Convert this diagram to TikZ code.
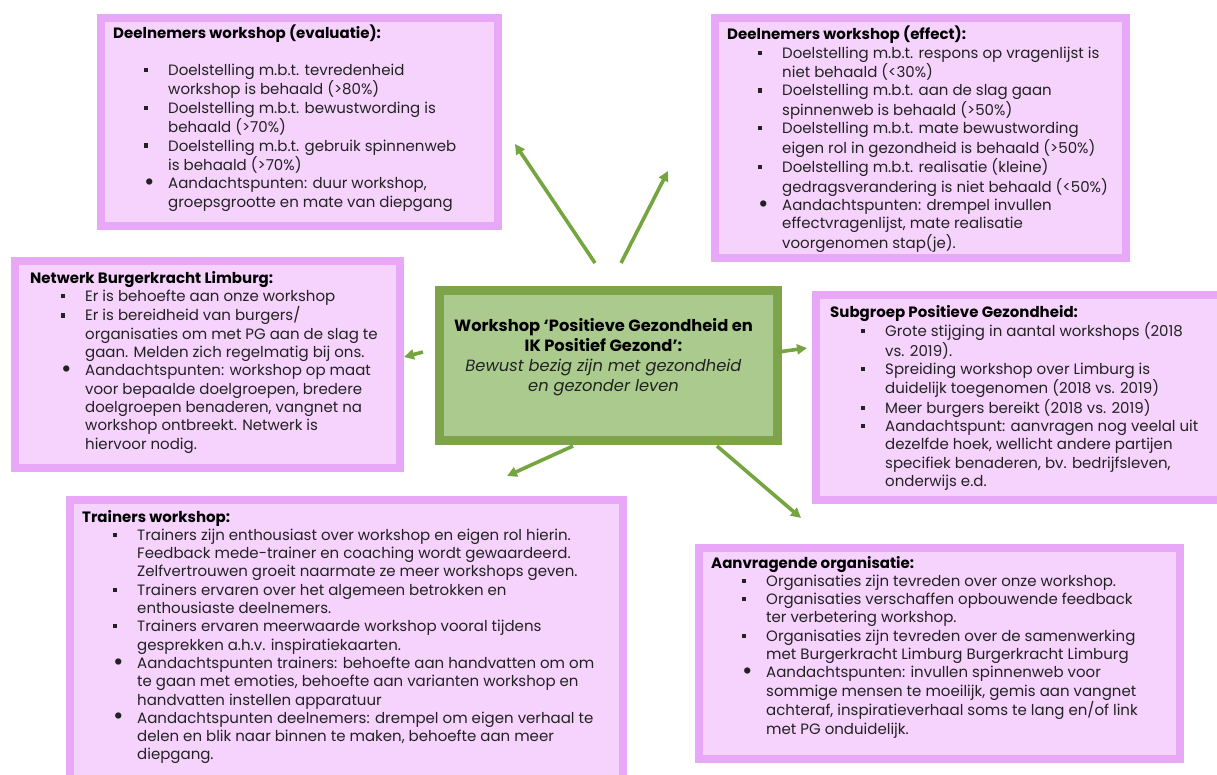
\documentclass[tikz,border=0pt]{standalone}
\usepackage{fontspec}
\setmainfont{Poppins}
\usepackage{array}
\usepackage{tikz}
\usetikzlibrary{arrows.meta}
\usetikzlibrary{positioning}

\definecolor{paars}{HTML}{E9A8F7}
\definecolor{lila}{HTML}{F6D3FC}
\definecolor{groen}{HTML}{7DA44A}
\definecolor{lichtgroen}{HTML}{AACA8E}
\definecolor{pijlgroen}{HTML}{74A53F}
\definecolor{tekst}{HTML}{222222}

\newcommand{\blok}{\raisebox{3.4pt}{\rule{4.2pt}{4.2pt}}}
\newcommand{\rond}{\raisebox{-1.6pt}{\scalebox{1.7}{\textbullet}}}
\newcommand{\kop}[1]{\multicolumn{2}{@{}l@{}}{\color{black}\textbf{#1}}}
\newenvironment{punten}{\begin{tabular}{@{\hspace{31pt}}p{24pt}@{}l@{}}}{\end{tabular}}

\tikzset{
	vak/.style={draw=paars, fill=lila, line width=8pt, anchor=north west, inner sep=0pt},
	kern/.style={draw=groen, fill=lichtgroen, line width=9pt, anchor=north west, inner sep=0pt},
	lijst/.style={anchor=north west, inner sep=0pt, text=tekst, font=\fontsize{15}{18.3}\selectfont},
	pijl/.style={pijlgroen, line width=3.6pt, -{Triangle[length=10pt,width=10pt]}}
}

\begin{document}
\begin{tikzpicture}[x=1pt,y=-1pt]
	\useasboundingbox (0,0) rectangle (1217,775);
	
	% kaders
	\node[vak, minimum width=397pt, minimum height=208pt] (evaluatie) at (97,14) {};
	\node[vak, minimum width=411pt, minimum height=240pt] (effect) at (711,14) {};
	\node[vak, minimum width=385pt, minimum height=207pt] (netwerk) at (11,257) {};
	\node[kern, minimum width=338pt, minimum height=149pt] (workshop) at (434.5,286.5) {};
	\node[vak, minimum width=409pt, minimum height=205pt] (subgroep) at (812,291) {};
	\node[vak, minimum width=553pt, minimum height=290pt] (trainers) at (66,496) {};
	\node[vak, minimum width=481pt, minimum height=211pt] (aanvrager) at (695,544) {};
	
	% midden
	\node[align=center, text=tekst, font=\fontsize{16.3}{20.2}\selectfont] (titel) at (603.5,357) {%
		\textcolor{black}{\textbf{Workshop ‘Positieve Gezondheid en}}\\
		\textcolor{black}{\textbf{IK Positief Gezond’:}}\\
		\textit{Bewust bezig zijn met gezondheid}\\
		\textit{en gezonder leven}};
	
	\node[lijst] (evaluatietekst) at (113,25) {\begin{punten}
		\kop{Deelnemers workshop (evaluatie):}\\
		\\
		\blok & Doelstelling m.b.t. tevredenheid\\
		& workshop is behaald (>80\%)\\
		\blok & Doelstelling m.b.t. bewustwording is\\
		& behaald (>70\%)\\
		\blok & Doelstelling m.b.t. gebruik spinnenweb\\
		& is behaald (>70\%)\\
		\rond & Aandachtspunten: duur workshop,\\
		& groepsgrootte en mate van diepgang
	\end{punten}};
	
	\node[lijst] (effecttekst) at (727,26) {\begin{punten}
		\kop{Deelnemers workshop (effect):}\\
		\blok & Doelstelling m.b.t. respons op vragenlijst is\\
		& niet behaald (<30\%)\\
		\blok & Doelstelling m.b.t. aan de slag gaan\\
		& spinnenweb is behaald (>50\%)\\
		\blok & Doelstelling m.b.t. mate bewustwording\\
		& eigen rol in gezondheid is behaald (>50\%)\\
		\blok & Doelstelling m.b.t. realisatie (kleine)\\
		& gedragsverandering is niet behaald (<50\%)\\
		\rond & Aandachtspunten: drempel invullen\\
		& effectvragenlijst, mate realisatie\\
		& voorgenomen stap(je).
	\end{punten}};
	
	\node[lijst] (netwerktekst) at (30,270) {\begin{punten}
		\kop{Netwerk Burgerkracht Limburg:}\\
		\blok & Er is behoefte aan onze workshop\\
		\blok & Er is bereidheid van burgers/\\
		& organisaties om met PG aan de slag te\\
		& gaan. Melden zich regelmatig bij ons.\\
		\rond & Aandachtspunten: workshop op maat\\
		& voor bepaalde doelgroepen, bredere\\
		& doelgroepen benaderen, vangnet na\\
		& workshop ontbreekt. Netwerk is\\
		& hiervoor nodig.
	\end{punten}};
	
	\node[lijst] (subgroeptekst) at (830,304) {\begin{punten}
		\kop{Subgroep Positieve Gezondheid:}\\
		\blok & Grote stijging in aantal workshops (2018\\
		& vs. 2019).\\
		\blok & Spreiding workshop over Limburg is\\
		& duidelijk toegenomen (2018 vs. 2019)\\
		\blok & Meer burgers bereikt (2018 vs. 2019)\\
		\blok & Aandachtspunt: aanvragen nog veelal uit\\
		& dezelfde hoek, wellicht andere partijen\\
		& specifiek benaderen, bv. bedrijfsleven,\\
		& onderwijs e.d.
	\end{punten}};
	
	\node[lijst] (trainerstekst) at (82,509) {\begin{punten}
		\kop{Trainers workshop:}\\
		\blok & Trainers zijn enthousiast over workshop en eigen rol hierin.\\
		& Feedback mede-trainer en coaching wordt gewaardeerd.\\
		& Zelfvertrouwen groeit naarmate ze meer workshops geven.\\
		\blok & Trainers ervaren over het algemeen betrokken en\\
		& enthousiaste deelnemers.\\
		\blok & Trainers ervaren meerwaarde workshop vooral tijdens\\
		& gesprekken a.h.v. inspiratiekaarten.\\
		\rond & Aandachtspunten trainers: behoefte aan handvatten om om\\
		& te gaan met emoties, behoefte aan varianten workshop en\\
		& handvatten instellen apparatuur\\
		\rond & Aandachtspunten deelnemers: drempel om eigen verhaal te\\
		& delen en blik naar binnen te maken, behoefte aan meer\\
		& diepgang.
	\end{punten}};
	
	\node[lijst] (aanvragertekst) at (711,555) {\begin{punten}
		\kop{Aanvragende organisatie:}\\
		\blok & Organisaties zijn tevreden over onze workshop.\\
		\blok & Organisaties verschaffen opbouwende feedback\\
		& ter verbetering workshop.\\
		\blok & Organisaties zijn tevreden over de samenwerking\\
		& met Burgerkracht Limburg Burgerkracht Limburg\\
		\rond & Aandachtspunten: invullen spinnenweb voor\\
		& sommige mensen te moeilijk, gemis aan vangnet\\
		& achteraf, inspiratieverhaal soms te lang en/of link\\
		& met PG onduidelijk.
	\end{punten}};
	
	% pijlen vanuit het midden
	\coordinate (s1) at (595,263);  \coordinate (e1) at (515,144);
	\coordinate (s2) at (621,263);  \coordinate (e2) at (668,171);
	\coordinate (s3) at (423,352);  \coordinate (e3) at (404,357);
	\coordinate (s4) at (778,352);  \coordinate (e4) at (807,348);
	\coordinate (s5) at (573,446);  \coordinate (e5) at (507,476);
	\coordinate (s6) at (717,446);  \coordinate (e6) at (801,518);
	\foreach \i in {1,...,6}
		\draw[pijl] (s\i) -- (e\i);
	
\end{tikzpicture}
\end{document}
